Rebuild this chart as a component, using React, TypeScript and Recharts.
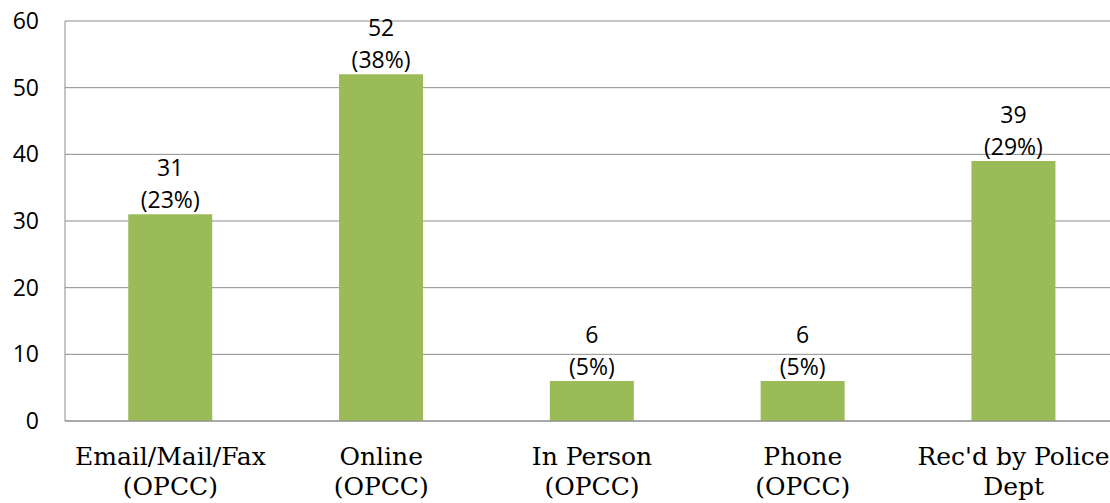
import { Bar, BarChart, CartesianGrid, LabelList, XAxis, YAxis } from "recharts";

// Categories split in two lines, as the axis shows them.
const CATEGORY_LINE1 = ["Email/Mail/Fax", "Online", "In Person", "Phone", "Rec'd by Police"];
const CATEGORY_LINE2 = ["(OPCC)", "(OPCC)", "(OPCC)", "(OPCC)", "Dept"];
const COUNTS = [31, 52, 6, 6, 39];
const PERCENTS = ["23%", "38%", "5%", "5%", "29%"];
const Y_TICKS = [0, 10, 20, 30, 40, 50, 60];

const data = CATEGORY_LINE1.map((name, i) => ({
  name,
  line2: CATEGORY_LINE2[i],
  total: COUNTS[i],
  pct: PERCENTS[i],
}));

const GREEN = "#9bbb59";
const GRID = "#8c8c8c";
const SANS = "'Open Sans', 'DejaVu Sans', sans-serif";
const SERIF = "'DejaVu Serif', serif";

function CategoryTick(props: any) {
  const { x, y, payload, index } = props;
  return (
    <g>
      <text x={x} y={y + 36} textAnchor="middle" fontFamily={SERIF} fontSize={25} fill="#000">
        {payload.value}
      </text>
      <text x={x} y={y + 66} textAnchor="middle" fontFamily={SERIF} fontSize={25} fill="#000">
        {CATEGORY_LINE2[index]}
      </text>
    </g>
  );
}

function ValueLabel(props: any) {
  const { x, y, width, index } = props;
  const cx = x + width / 2;
  const base = y - 6;
  return (
    <g>
      <text x={cx} y={base - 32} textAnchor="middle" fontFamily={SANS} fontSize={23} fill="#000">
        {COUNTS[index]}
      </text>
      <text x={cx} y={base} textAnchor="middle" fontFamily={SANS} fontSize={23} fill="#000">
        ({PERCENTS[index]})
      </text>
    </g>
  );
}

export default function App() {
  return (
    <div
      style={{
        position: "absolute",
        left: 0,
        top: 0,
        width: 1110,
        height: 503,
        overflow: "hidden",
        background: "#fff",
      }}
    >
      <BarChart
        width={1119}
        height={503}
        data={data}
        margin={{ top: 21, right: 0, bottom: 0, left: 0 }}
        barCategoryGap="30%"
      >
        <CartesianGrid vertical={false} stroke={GRID} strokeWidth={1} />
        <XAxis
          dataKey="name"
          height={82}
          axisLine={{ stroke: GRID }}
          tickLine={false}
          interval={0}
          tick={<CategoryTick />}
        />
        <YAxis
          width={65}
          domain={[0, 60]}
          ticks={Y_TICKS}
          axisLine={{ stroke: GRID }}
          tickLine={false}
          tickSize={0}
          tickMargin={26}
          tick={{ fontFamily: SANS, fontSize: 23, fill: "#000" }}
        />
        <Bar dataKey="total" fill={GREEN} isAnimationActive={false}>
          <LabelList dataKey="total" content={<ValueLabel />} />
        </Bar>
      </BarChart>
    </div>
  );
}
